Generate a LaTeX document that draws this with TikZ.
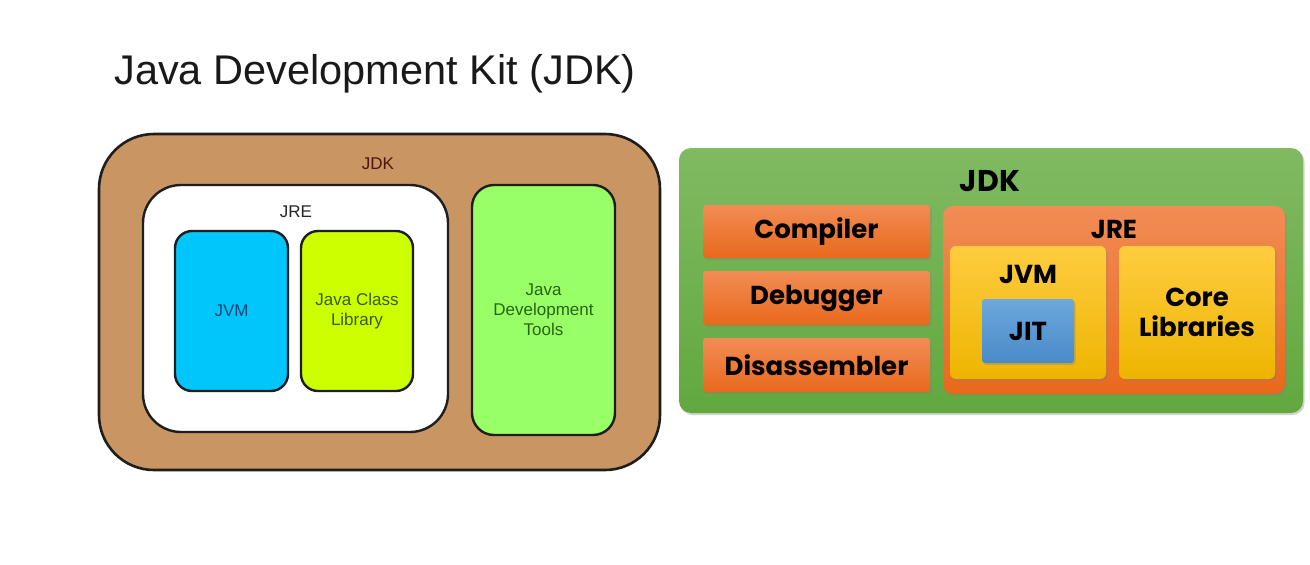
\documentclass[tikz,border=0pt]{standalone}
\usepackage{fontspec}
\setmainfont{Liberation Sans}
\newfontfamily\boldgeo{Poppins}[UprightFont=* Bold]
\usetikzlibrary{shadows}
\definecolor{brownbg}{HTML}{C99563}
\definecolor{jvmblue}{HTML}{00C6FC}
\definecolor{jcllime}{HTML}{CCFF00}
\definecolor{jdtgreen}{HTML}{99FF66}
\definecolor{outline}{HTML}{1E1E1E}
\definecolor{greenA}{HTML}{80BA62}
\definecolor{greenB}{HTML}{62A83E}
\definecolor{orangeA}{HTML}{F28C55}
\definecolor{orangeB}{HTML}{E8691C}
\definecolor{yellowA}{HTML}{FFCC40}
\definecolor{yellowB}{HTML}{EDB500}
\definecolor{blueA}{HTML}{6DA8DE}
\definecolor{blueB}{HTML}{4A8AC8}
\tikzset{
  lbox/.style={draw=outline, line width=2.4pt, align=center, inner sep=0pt, font=\fontsize{17}{20}\selectfont},
  rbox/.style={align=center, inner sep=0pt, text=black, font=\boldgeo\fontsize{26}{30}\selectfont,
    drop shadow={opacity=0.35, shadow xshift=1.5pt, shadow yshift=-2pt}},
  orangebox/.style={rbox, top color=orangeA, bottom color=orangeB, rounded corners=3pt},
  lbl/.style={inner sep=0pt}
}
\begin{document}
\begin{tikzpicture}[x=1pt,y=-1pt]
\useasboundingbox[fill=white] (0,0) rectangle (1310,565);
% title
\node[lbl, font=\fontsize{41.5}{46}\selectfont, text=black!90] (title) at (375,74) {Java Development Kit (JDK)};
% left diagram
\node[lbl, draw=outline, line width=2.6pt, fill=brownbg, rounded corners=55pt, minimum width=561pt, minimum height=336pt] (jdkL) at (379.5,302) {};
\node[lbl, font=\fontsize{17}{20}\selectfont, text={rgb,255:red,80;green,20;blue,10}] (jdkLlbl) at (378,164) {JDK};
\node[lbl, draw=outline, line width=2.4pt, fill=white, rounded corners=38pt, minimum width=305pt, minimum height=247pt] (jreL) at (295.5,308.5) {};
\node[lbl, font=\fontsize{17}{20}\selectfont, text=black!85] (jreLlbl) at (296,212) {JRE};
\node[lbox, fill=jvmblue, rounded corners=17pt, minimum width=113pt, minimum height=160pt, text={rgb,255:red,20;green,70;blue,120}] (jvmL) at (231.5,311) {JVM};
\node[lbox, fill=jcllime, rounded corners=17pt, minimum width=112pt, minimum height=160pt, text={rgb,255:red,60;green,90;blue,0}] (jclL) at (357,311) {Java Class\\Library};
\node[lbox, fill=jdtgreen, rounded corners=22pt, minimum width=143pt, minimum height=250pt, text={rgb,255:red,40;green,100;blue,20}] (jdtL) at (543.5,310) {Java\\Development\\Tools};
% right diagram
\node[rbox, top color=greenA, bottom color=greenB, rounded corners=12pt, minimum width=624pt, minimum height=265pt] (jdkR) at (991,280.5) {};
\node[lbl, font=\boldgeo\fontsize{30}{34}\selectfont] (jdkRlbl) at (990,181) {JDK};
\node[orangebox, minimum width=227pt, minimum height=53pt] (comp) at (816.5,231.5) {Compiler};
\node[orangebox, minimum width=227pt, minimum height=54pt] (dbg) at (816.5,298) {Debugger};
\node[orangebox, minimum width=227pt, minimum height=54pt] (dis) at (816.5,365) {Disassembler};
\node[rbox, top color=orangeA, bottom color=orangeB, rounded corners=10pt, minimum width=342pt, minimum height=188pt] (jreR) at (1114,300) {};
\node[lbl, font=\boldgeo\fontsize{26}{30}\selectfont] (jreRlbl) at (1114,229) {JRE};
\node[rbox, top color=yellowA, bottom color=yellowB, rounded corners=6pt, minimum width=156pt, minimum height=133pt] (jvmR) at (1028,312.5) {};
\node[lbl, font=\boldgeo\fontsize{26}{30}\selectfont] (jvmRlbl) at (1028,274) {JVM};
\node[rbox, top color=blueA, bottom color=blueB, rounded corners=3pt, minimum width=92pt, minimum height=64pt] (jit) at (1028,331) {JIT};
\node[rbox, top color=yellowA, bottom color=yellowB, rounded corners=6pt, minimum width=156pt, minimum height=133pt] (core) at (1197,312.5) {Core\\Libraries};
\end{tikzpicture}
\end{document}
